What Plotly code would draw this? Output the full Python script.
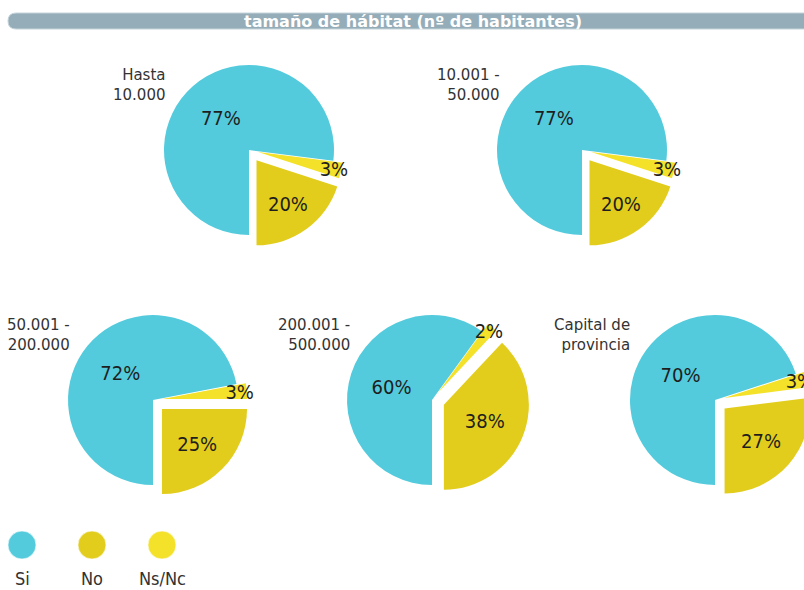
import plotly.graph_objects as go

# ---------------- data ----------------
title_text = "tamaño de hábitat (nº de habitantes)"
groups = ["Hasta<br>10.000", "10.001 -<br>50.000", "50.001 -<br>200.000",
          "200.001 -<br>500.000", "Capital de<br>provincia"]
categories = ["Si", "No", "Ns/Nc"]
si_vals = [77, 77, 72, 60, 70]
no_vals = [20, 20, 25, 38, 27]
nsnc_vals = [3, 3, 3, 2, 3]

# ---------------- styles / layout ----------------
W, H = 840, 590
colors = {"Si": "#53cbdc", "No": "#e2cd1d", "Ns/Nc": "#f3e12a"}
slice_order = ["Si", "Ns/Nc", "No"]
pull_by_cat = {"Si": 0.0, "Ns/Nc": 0.11, "No": 0.15}
centers = [(249, 150), (582, 150), (153, 400), (432, 400), (715, 400)]
label_anchor = [(168, 64), (502, 64), (72, 314), (352, 314), (632, 314)]
R = 85
maxpull = max(pull_by_cat.values())
D = 2 * R * (1 + maxpull)
legend_x = [22, 92, 162]
legend_marker_y = 545
legend_text_y = 578
FONT = "DejaVu Sans"
PCT_FONT = "DejaVu Sans Condensed, DejaVu Sans"

fig = go.Figure()

for i, grp in enumerate(groups):
    vals = {"Si": si_vals[i], "No": no_vals[i], "Ns/Nc": nsnc_vals[i]}
    labels = slice_order
    values = [vals[c] for c in labels]
    cx, cy = centers[i]
    fig.add_trace(go.Pie(
        labels=labels,
        values=values,
        sort=False,
        direction="clockwise",
        rotation=180,
        pull=[pull_by_cat[c] for c in labels],
        marker=dict(colors=[colors[c] for c in labels], line=dict(width=0)),
        texttemplate="%{value}%",
        textposition="inside",
        insidetextorientation="horizontal",
        textfont=dict(family=PCT_FONT, size=20, color="#1e1e1e"),
        hoverinfo="skip",
        showlegend=False,
        domain=dict(x=[(cx - D / 2) / W, (cx + D / 2) / W],
                    y=[1 - (cy + D / 2) / H, 1 - (cy - D / 2) / H]),
    ))
    ax, ay = label_anchor[i]
    fig.add_annotation(x=ax, y=ay, xref="x", yref="y", text=grp, showarrow=False,
                       xanchor="right", yanchor="top", align="right",
                       font=dict(family=FONT, size=15, color="#333333"))

# legend markers
fig.add_trace(go.Scatter(
    x=legend_x, y=[legend_marker_y] * len(categories), mode="markers",
    marker=dict(size=28, color=[colors[c] for c in categories],
                line=dict(width=1, color="rgba(255,255,255,0.6)")),
    hoverinfo="skip", showlegend=False,
))
for xx, cat in zip(legend_x, categories):
    fig.add_annotation(x=xx, y=legend_text_y, xref="x", yref="y", text=cat,
                       showarrow=False, xanchor="center", yanchor="middle",
                       font=dict(family=PCT_FONT, size=18, color="#333333"))

# title bar
bx0, bx1, by0, by1, rr = 8, W + 10, 13, 29, 8
path = (f"M {bx0+rr},{by0} L {bx1},{by0} L {bx1},{by1} L {bx0+rr},{by1} "
        f"Q {bx0},{by1} {bx0},{(by0+by1)/2} Q {bx0},{by0} {bx0+rr},{by0} Z")
fig.add_shape(type="path", path=path, xref="x", yref="y", layer="below",
              fillcolor="#95adb8", line=dict(color="#c5d4db", width=1))
fig.add_annotation(x=413, y=21, xref="x", yref="y", text=f"<b>{title_text}</b>",
                   showarrow=False, xanchor="center", yanchor="middle",
                   font=dict(family=FONT, size=16, color="#ffffff"))

fig.update_layout(
    width=W, height=H,
    margin=dict(l=0, r=0, t=0, b=0),
    paper_bgcolor="white", plot_bgcolor="white",
    xaxis=dict(range=[0, W], visible=False, fixedrange=True),
    yaxis=dict(range=[H, 0], visible=False, fixedrange=True),
    uniformtext=dict(minsize=20, mode="show"),
    showlegend=False,
)

fig.write_html("out.html", config={"displayModeBar": False, "staticPlot": True},
               post_script="document.documentElement.style.overflow='hidden';"
                           "document.body.style.overflow='hidden';"
                           "document.body.style.margin='0';")
